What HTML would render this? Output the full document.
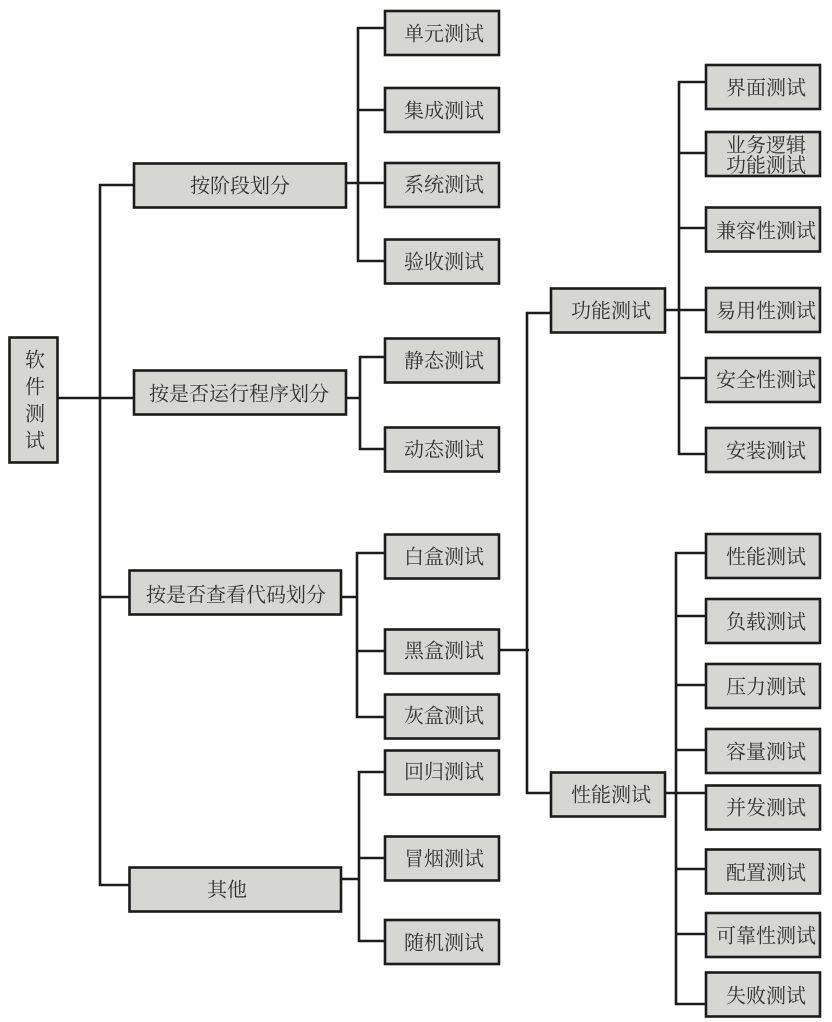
<!DOCTYPE html>
<html><head><meta charset="utf-8"><style>
html,body{margin:0;padding:0;background:#fff}
svg{display:block}
rect{fill:#d6d6d3;stroke:#1c1c1c;stroke-width:2.6}
path{fill:none;stroke:#1c1c1c;stroke-width:2.6}
text{font-family:"Liberation Serif","Noto Serif CJK SC",serif;font-size:20px;fill:#333;text-anchor:middle;dominant-baseline:central;transform:translateY(1.5px)}
</style></head><body>
<svg width="832" height="1022" viewBox="0 0 832 1022" xmlns="http://www.w3.org/2000/svg">
<path d="M58 398H134M134 185H100V885H129M100 597H129"/>
<path d="M385 28H358V261H385M358 110H385M346 183H385"/>
<path d="M385 357H360V449H385M346 398H360"/>
<path d="M385 553H357V717H385M357 651H385M341 597H357"/>
<path d="M385 772H359V941H385M359 858H385M341 879H359"/>
<path d="M499 650H529M551 313H527V793H551"/>
<path d="M706 82H679V454H706M679 153H706M679 228H706M665 310H706M679 378H706"/>
<path d="M706 553H676V1004H706M676 616H706M676 685H706M676 750H706M665 793H706M676 869H706M676 934H706"/>

<rect x="9.5" y="337.5" width="48" height="125"/>
<text x="35" y="359">软</text><text x="35" y="386">件</text><text x="35" y="413">测</text><text x="35" y="440">试</text>

<rect x="134" y="163.5" width="212" height="44"/><text x="240" y="185">按阶段划分</text>
<rect x="134" y="370.5" width="212" height="44"/><text x="239" y="393">按是否运行程序划分</text>
<rect x="129.500" y="570.5" width="211.500" height="44"/><text x="236" y="594">按是否查看代码划分</text>
<rect x="129.500" y="867.5" width="211.500" height="44"/><text x="227" y="889">其他</text>

<rect x="385" y="11" width="114" height="44"/><text x="444" y="33">单元测试</text>
<rect x="385" y="88" width="114" height="44"/><text x="444" y="110">集成测试</text>
<rect x="385" y="163" width="114" height="44"/><text x="444" y="184">系统测试</text>
<rect x="385" y="239.500" width="114" height="44"/><text x="444" y="261">验收测试</text>
<rect x="385" y="338.500" width="114" height="44"/><text x="444" y="360">静态测试</text>
<rect x="385" y="427.500" width="114" height="44"/><text x="444" y="449">动态测试</text>
<rect x="385" y="534.500" width="114" height="44"/><text x="444" y="556">白盒测试</text>
<rect x="385" y="629.500" width="114" height="44"/><text x="444" y="650">黑盒测试</text>
<rect x="385" y="694.500" width="114" height="44"/><text x="444" y="715">灰盒测试</text>
<rect x="385" y="750.500" width="114" height="44"/><text x="444" y="771">回归测试</text>
<rect x="385" y="836.500" width="114" height="44"/><text x="444" y="858">冒烟测试</text>
<rect x="385" y="920" width="114" height="44"/><text x="444" y="942">随机测试</text>

<rect x="551" y="288.500" width="114" height="44"/><text x="611" y="310">功能测试</text>
<rect x="551" y="772.500" width="114" height="44"/><text x="611" y="794">性能测试</text>

<rect x="706" y="65" width="114" height="44"/><text x="766" y="87">界面测试</text>
<rect x="706" y="132" width="114" height="44"/><text x="766" y="144.500">业务逻辑</text><text x="766" y="164.500">功能测试</text>
<rect x="706" y="207.500" width="114" height="44"/><text x="766" y="230">兼容性测试</text>
<rect x="706" y="288" width="114" height="44"/><text x="766" y="310">易用性测试</text>
<rect x="706" y="358" width="114" height="44"/><text x="766" y="379">安全性测试</text>
<rect x="706" y="428" width="114" height="44"/><text x="766" y="450">安装测试</text>
<rect x="706" y="534" width="114" height="44"/><text x="766" y="556">性能测试</text>
<rect x="706" y="599" width="114" height="44"/><text x="766" y="621">负载测试</text>
<rect x="706" y="664" width="114" height="44"/><text x="766" y="686">压力测试</text>
<rect x="706" y="729" width="114" height="44"/><text x="766" y="751">容量测试</text>
<rect x="706" y="785.500" width="114" height="44"/><text x="766" y="807">并发测试</text>
<rect x="706" y="849.500" width="114" height="44"/><text x="766" y="872">配置测试</text>
<rect x="706" y="913" width="114" height="44"/><text x="766" y="935">可靠性测试</text>
<rect x="706" y="972.500" width="114" height="44"/><text x="766" y="995">失败测试</text>
</svg>
</body></html>
